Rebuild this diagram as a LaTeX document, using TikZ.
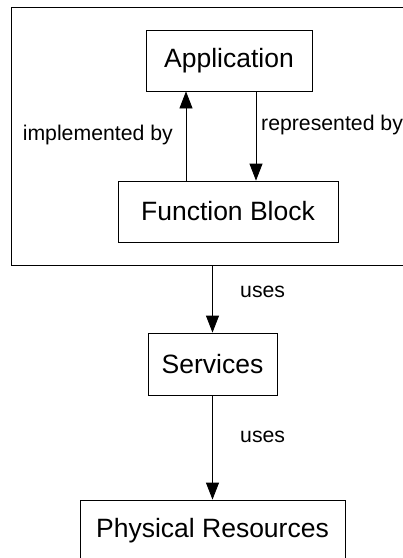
\documentclass[tikz,border=0pt]{standalone}
\usepackage{fontspec}
\setmainfont{Liberation Sans}
\usetikzlibrary{arrows.meta}
\begin{document}
\begin{tikzpicture}[x=1pt,y=-1pt,
  box/.style={draw=black,line width=0.8pt,inner sep=0pt,font=\fontsize{26.5}{30}\selectfont},
  lbl/.style={inner sep=0pt,font=\fontsize{21.25}{24}\selectfont},
  arr/.style={draw=black,line width=0.8pt,-{Triangle[length=17pt,width=13pt]}}]
\clip (0,0) rectangle (403,558);
\node[draw=black,line width=0.8pt,minimum width=399pt,minimum height=258pt,inner sep=0pt] (outer) at (210.75,136) {};
\node[box,minimum width=166pt,minimum height=61pt] (app) at (229,60.5) {Application};
\node[box,minimum width=220pt,minimum height=61pt] (fb) at (228,211.5) {Function Block};
\node[box,minimum width=129pt,minimum height=62pt] (srv) at (212.5,364) {Services};
\node[box,minimum width=265pt,minimum height=61pt] (phy) at (212.5,530.5) {Physical Resources};
\coordinate (upx) at (186,0);
\coordinate (dnx) at (256,0);
\draw[arr] (fb.north -| upx) -- (app.south -| upx);
\draw[arr] (app.south -| dnx) -- (fb.north -| dnx);
\draw[arr] (outer.south -| srv.north) -- (srv.north);
\draw[arr] (srv.south) -- (phy.north);
\node[lbl,anchor=east] (impl) at (173,135) {implemented by};
\node[lbl,anchor=west] (repr) at (261,125) {represented by};
\node[lbl,anchor=west] (uses1) at (240,292) {uses};
\node[lbl,anchor=west] (uses2) at (240,437) {uses};
\end{tikzpicture}
\end{document}
